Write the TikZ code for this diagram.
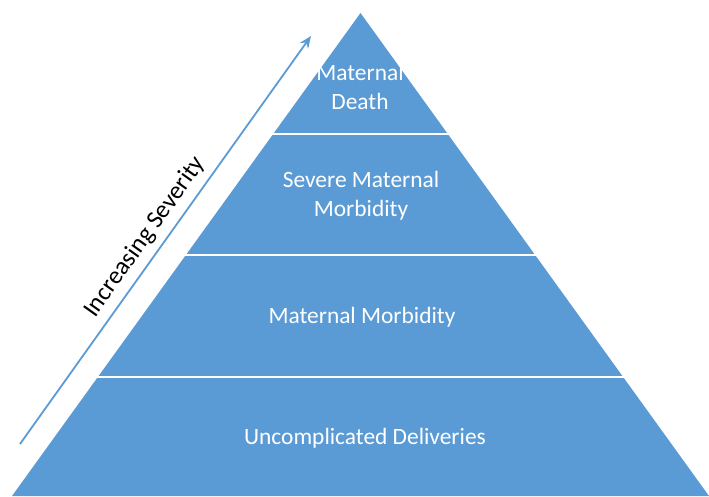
\documentclass[tikz,border=0pt]{standalone}
\usepackage{fontspec}
\setmainfont{Carlito}
\usetikzlibrary{arrows.meta}
\definecolor{pyrblue}{HTML}{5B9BD5}
\begin{document}
\begin{tikzpicture}[x=1pt,y=-1pt,
  lbl/.style={text=white,font=\fontsize{23.4}{28.5}\selectfont,align=center,inner sep=0pt},
  sep/.style={draw=white,line width=2.5pt},
  sev/.style={draw=pyrblue,line width=1.8pt,-{Stealth[length=12pt,width=10pt]}}]
\useasboundingbox (0,0) rectangle (709,496);
\coordinate (apex) at (360.5,13);
\coordinate (bl) at (12,496);
\coordinate (br) at (709,496);
\fill[pyrblue] (apex) -- (bl) -- (br) -- cycle;
% band separators
\coordinate (s1l) at (260,134); \coordinate (s1r) at (461,134);
\coordinate (s2l) at (172,255); \coordinate (s2r) at (549,255);
\coordinate (s3l) at (84,377); \coordinate (s3r) at (637,377);
\draw[sep] (s1l) -- (s1r);
\draw[sep] (s2l) -- (s2r);
\draw[sep] (s3l) -- (s3r);
\node[lbl] (death) at (360,87) {Maternal\\Death};
\node[lbl] (smm) at (361,196) {Severe Maternal\\Morbidity};
\node[lbl] (mm) at (362,317) {Maternal Morbidity};
\node[lbl] (ud) at (365,438) {Uncomplicated Deliveries};
% arrow
\coordinate (a0) at (20,444);
\coordinate (a1) at (311,36);
\draw[sev] (a0) -- (a1);
\node[text=black,font=\fontsize{25}{30}\selectfont,rotate=54.5,inner sep=0pt] (inc) at (145,237) {Increasing Severity};
\end{tikzpicture}
\end{document}
